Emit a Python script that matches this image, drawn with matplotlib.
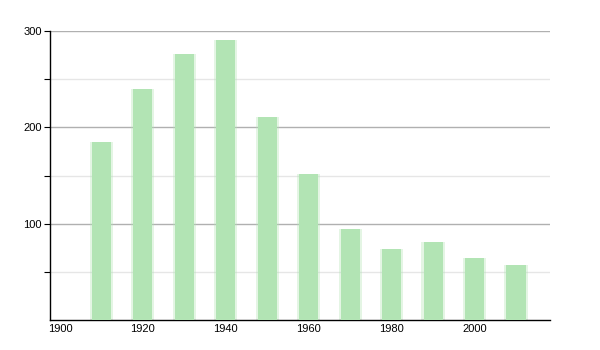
import matplotlib
matplotlib.use("Agg")
import matplotlib.pyplot as plt

years = [1910, 1920, 1930, 1940, 1950, 1960, 1970, 1980, 1990, 2000, 2010]
values = [185, 240, 276, 291, 211, 152, 94, 74, 81, 64, 57]
xticks = [1900, 1920, 1940, 1960, 1980, 2000]
yticks = [100, 200, 300]
yminor = [50, 150, 250]

BAR = "#b2e4b4"

plt.rcParams["font.family"] = ["Liberation Sans", "DejaVu Sans"]

fig = plt.figure(figsize=(6, 3.5), dpi=100)
ax = fig.add_axes([50 / 600, 1 - 320 / 350, 500 / 600, 289 / 350])

# soft halo then solid bar, mimics the blurred edges
ax.bar(years, values, width=5.6, color=BAR, alpha=0.35, linewidth=0, zorder=2)
ax.bar(years, values, width=4.6, color=BAR, linewidth=0, zorder=3)

ax.set_xlim(1897.6, 2018.2)
ax.set_ylim(0, 300)
ax.set_xticks(xticks)
ax.set_yticks(yticks)
ax.set_yticks(yminor, minor=True)

for y in yticks:
    ax.axhline(y, color="#b0b0b0", linewidth=1.0, zorder=1)
for y in yminor:
    ax.axhline(y, color="#e6e6e6", linewidth=1.0, zorder=1)

for s in ("top", "right"):
    ax.spines[s].set_visible(False)
ax.spines["left"].set_linewidth(1.0)
ax.spines["bottom"].set_linewidth(1.0)

ax.tick_params(axis="x", length=0, labelsize=8, pad=3)
ax.tick_params(axis="y", which="both", length=4, width=0.8, labelsize=8, pad=2)

fig.savefig("out.png", dpi=100)
